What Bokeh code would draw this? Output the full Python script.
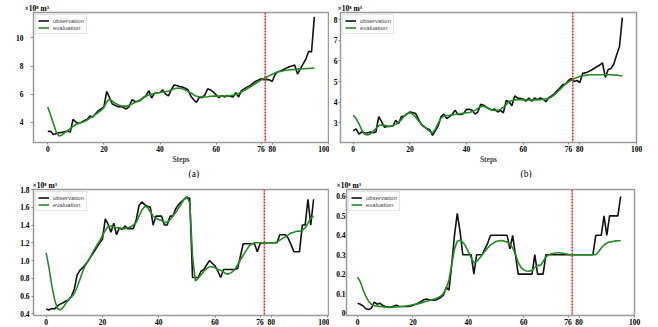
from bokeh.plotting import figure
from bokeh.layouts import column, row
from bokeh.models import Range1d, FixedTicker, Span, Title, PrintfTickFormatter
from bokeh.embed import file_html
from bokeh.resources import INLINE

steps = list(range(96))
x_ticks = [0, 20, 40, 60, 76, 80, 100]
split_step = 77.5
unit_text = "×10⁸ m³"
series_names = ["observation", "evaluation"]
captions = ["(a)", "(b)"]

obs_a = [3.35, 3.36, 3.12, 3.2, 3.25, 3.28, 3.33, 3.36, 3.3, 4.2,
         4.02, 3.92, 4.0, 4.12, 4.2, 4.45, 4.38, 4.6, 4.82, 4.95,
         5.1, 6.19, 5.75, 5.3, 5.2, 5.1, 5.12, 5.05, 4.95, 5.12,
         5.6, 5.5, 5.48, 5.55, 5.75, 5.9, 6.25, 5.72, 6.05, 6.1,
         6.12, 6.3, 6.0, 5.88, 6.3, 6.65, 6.62, 6.55, 6.5, 6.42,
         6.3, 5.85, 5.6, 5.41, 5.78, 5.75, 5.95, 6.38, 6.3, 6.15,
         5.95, 5.75, 5.9, 5.8, 5.9, 5.85, 5.8, 6.1, 5.8, 6.25,
         6.38, 6.5, 6.6, 6.75, 6.9, 7.0, 7.1, 7.02, 7.05, 7.02,
         6.9, 7.4, 7.6, 7.65, 7.75, 7.85, 7.95, 8.0, 8.07, 7.43,
         7.8, 8.15, 8.5, 9.05, 9.0, 11.5]
eval_a = [5.08, 4.5, 3.9, 3.3, 3.02, 3.1, 3.25, 3.4, 3.55, 3.7,
          3.85, 3.92, 3.98, 4.05, 4.15, 4.3, 4.42, 4.55, 4.7, 4.85,
          5.05, 5.45, 5.65, 5.5, 5.35, 5.25, 5.18, 5.15, 5.15, 5.2,
          5.3, 5.4, 5.5, 5.6, 5.72, 5.85, 5.95, 6.0, 6.05, 6.1,
          6.12, 6.15, 6.18, 6.22, 6.3, 6.38, 6.42, 6.42, 6.38, 6.3,
          6.2, 6.08, 5.95, 5.85, 5.82, 5.8, 5.8, 5.82, 5.85, 5.86,
          5.86, 5.86, 5.86, 5.87, 5.88, 5.9, 5.93, 5.98, 6.05, 6.15,
          6.25, 6.37, 6.5, 6.62, 6.75, 6.88, 7.0, 7.12, 7.22, 7.32,
          7.42, 7.5, 7.57, 7.62, 7.66, 7.7, 7.72, 7.74, 7.76, 7.78,
          7.8, 7.81, 7.82, 7.83, 7.84, 7.85]

obs_b = [2.6, 2.7, 2.45, 2.55, 2.5, 2.5, 2.55, 2.52, 2.55, 3.29,
         3.05, 2.78, 2.82, 2.82, 2.85, 3.12, 2.95, 3.3, 3.32, 3.42,
         3.52, 3.5, 3.45, 3.18, 2.92, 2.8, 2.72, 2.66, 2.39, 2.62,
         2.85, 3.3, 3.42, 3.2, 3.3, 3.42, 3.6, 3.4, 3.4, 3.45,
         3.65, 3.65, 3.6, 3.42, 3.52, 3.9, 3.85, 3.75, 3.68, 3.62,
         3.66, 3.52, 3.6, 3.48, 4.08, 4.02, 3.82, 4.3, 4.2, 4.18,
         4.15, 4.05, 4.2, 4.04, 4.2, 4.12, 4.2, 4.15, 4.02, 4.22,
         4.3, 4.4, 4.55, 4.7, 4.85, 4.88, 5.05, 5.15, 5.0, 5.05,
         4.95, 5.4, 5.42, 5.48, 5.55, 5.63, 5.72, 5.8, 5.9, 5.2,
         5.58, 5.63, 5.85, 6.3, 6.7, 8.1]
eval_b = [3.38, 3.2, 2.95, 2.65, 2.45, 2.4, 2.45, 2.58, 2.72, 2.85,
          2.9, 2.88, 2.84, 2.83, 2.86, 2.92, 3.02, 3.15, 3.32, 3.45,
          3.48, 3.42, 3.28, 3.1, 2.95, 2.82, 2.7, 2.58, 2.5, 2.7,
          2.98, 3.22, 3.32, 3.35, 3.36, 3.38, 3.4, 3.42, 3.44, 3.46,
          3.48, 3.5, 3.54, 3.6, 3.7, 3.78, 3.8, 3.75, 3.66, 3.62,
          3.6, 3.6, 3.66, 3.75, 3.88, 4.02, 4.08, 4.1, 4.12, 4.12,
          4.11, 4.1, 4.1, 4.1, 4.1, 4.11, 4.12, 4.14, 4.16, 4.18,
          4.25, 4.35, 4.48, 4.62, 4.76, 4.88, 4.98, 5.06, 5.14, 5.2,
          5.25, 5.28, 5.3, 5.32, 5.33, 5.33, 5.33, 5.33, 5.33, 5.33,
          5.33, 5.33, 5.32, 5.31, 5.29, 5.27]

obs_c = [0.455, 0.445, 0.46, 0.455, 0.49, 0.51, 0.525, 0.545, 0.56, 0.6,
         0.68, 0.84, 0.89, 0.92, 0.96, 1.0, 1.05, 1.1, 1.15, 1.2,
         1.24, 1.47, 1.41, 1.32, 1.42, 1.29, 1.37, 1.35, 1.39, 1.36,
         1.36, 1.36, 1.46, 1.62, 1.66, 1.63, 1.61, 1.6, 1.4, 1.5,
         1.5, 1.5, 1.4, 1.4, 1.5, 1.5, 1.58, 1.63, 1.66, 1.69,
         1.71, 1.7, 0.81, 0.81, 0.81, 0.88, 0.9, 0.95, 1.0, 0.97,
         0.94, 0.88, 0.81, 0.9, 0.9, 0.9, 0.9, 0.9, 0.91, 1.05,
         1.19, 1.19, 1.19, 1.19, 1.19, 1.1, 1.19, 1.2, 1.2, 1.2,
         1.2, 1.2, 1.2, 1.29, 1.29, 1.29, 1.25, 1.18, 1.1, 1.1,
         1.1, 1.4, 1.4, 1.69, 1.4, 1.69]
eval_c = [1.086, 0.92, 0.72, 0.56, 0.46, 0.445, 0.47, 0.52, 0.56, 0.59,
          0.63, 0.7, 0.79, 0.88, 0.95, 1.0, 1.06, 1.12, 1.17, 1.22,
          1.28, 1.34, 1.38, 1.39, 1.38, 1.37, 1.37, 1.36, 1.36, 1.37,
          1.38, 1.4, 1.43, 1.5, 1.57, 1.61, 1.6, 1.55, 1.5, 1.48,
          1.46, 1.45, 1.43, 1.43, 1.46, 1.5, 1.54, 1.59, 1.64, 1.69,
          1.72, 1.65, 1.05, 0.77, 0.8, 0.84, 0.88, 0.91, 0.93, 0.93,
          0.92, 0.9, 0.89, 0.87, 0.85, 0.85, 0.87, 0.9, 0.95, 1.01,
          1.06, 1.11, 1.16, 1.19, 1.2, 1.2, 1.2, 1.2, 1.2, 1.2,
          1.2, 1.2, 1.21, 1.23, 1.25, 1.27, 1.29, 1.31, 1.32, 1.33,
          1.33, 1.34, 1.37, 1.42, 1.48, 1.5]

obs_d = [0.05, 0.045, 0.036, 0.022, 0.018, 0.025, 0.056, 0.045, 0.05, 0.04,
         0.033, 0.03, 0.03, 0.035, 0.04, 0.033, 0.033, 0.033, 0.033, 0.035,
         0.04, 0.045, 0.052, 0.06, 0.068, 0.072, 0.066, 0.066, 0.066, 0.072,
         0.08, 0.092, 0.132, 0.118, 0.25, 0.4, 0.513, 0.42, 0.3, 0.3,
         0.3, 0.3, 0.2, 0.3, 0.3, 0.3, 0.33, 0.36, 0.4, 0.4,
         0.4, 0.4, 0.4, 0.4, 0.4, 0.33, 0.4, 0.3, 0.2, 0.2,
         0.2, 0.2, 0.2, 0.2, 0.3, 0.2, 0.2, 0.2, 0.3, 0.3,
         0.3, 0.3, 0.3, 0.3, 0.3, 0.3, 0.3, 0.3, 0.3, 0.3,
         0.3, 0.3, 0.3, 0.3, 0.3, 0.3, 0.4, 0.4, 0.4, 0.5,
         0.4, 0.5, 0.5, 0.5, 0.5, 0.6]
eval_d = [0.185, 0.16, 0.12, 0.085, 0.06, 0.045, 0.038, 0.036, 0.034, 0.032,
          0.03, 0.029, 0.029, 0.03, 0.031, 0.032, 0.033, 0.035, 0.037, 0.039,
          0.042, 0.045, 0.048, 0.052, 0.056, 0.06, 0.064, 0.068, 0.073, 0.079,
          0.087, 0.1, 0.125, 0.17, 0.25, 0.33, 0.37, 0.375, 0.365, 0.345,
          0.315, 0.285, 0.258, 0.265, 0.282, 0.3, 0.318, 0.335, 0.35, 0.36,
          0.368, 0.372, 0.373, 0.37, 0.365, 0.355, 0.335, 0.305, 0.26, 0.235,
          0.222, 0.216, 0.215, 0.22, 0.235, 0.245, 0.245, 0.265, 0.288, 0.3,
          0.305, 0.308, 0.31, 0.31, 0.308, 0.305, 0.302, 0.3, 0.3, 0.3,
          0.3, 0.3, 0.3, 0.3, 0.3, 0.3, 0.3, 0.315, 0.335, 0.35,
          0.36, 0.365, 0.368, 0.37, 0.372, 0.372]

yticks_a = [4, 6, 8, 10]
yticks_b = [3, 4, 5, 6, 7, 8]
yticks_c = [0.4, 0.6, 0.8, 1.0, 1.2, 1.4, 1.6, 1.8]
yticks_d = [0, 0.1, 0.2, 0.3, 0.4, 0.5, 0.6]

SERIF = "Liberation Serif"


def panel(obs, ev, xr, yr, yticks, w, h, bl, br, bt, bb, ytick_out, ystand,
          unit_dx, caption=None, cap_dx=0, xlabel=None, yfmt=None, overrides=None):
    p = figure(width=w, height=h, x_range=Range1d(*xr), y_range=Range1d(*yr),
               output_backend="svg", toolbar_location=None,
               min_border_left=bl, min_border_right=br,
               min_border_top=bt, min_border_bottom=bb)
    p.grid.visible = False
    p.outline_line_color = "#9a9a9a"
    p.outline_line_width = 1.5
    p.background_fill_color = "white"
    p.border_fill_color = "white"

    p.line(steps, obs, line_color="#111111", line_width=1.6, legend_label=series_names[0])
    p.line(steps, ev, line_color="#228b22", line_width=1.6, legend_label=series_names[1])
    p.add_layout(Span(location=split_step, dimension="height", line_color="#ff1a1a",
                      line_dash="2 1", line_width=1.5))

    for ax in (p.xaxis[0], p.yaxis[0]):
        ax.axis_line_color = None
        ax.major_tick_in = 0
        ax.minor_tick_in = 0
        ax.minor_tick_out = 0
        ax.major_tick_line_color = "#888888"
        ax.major_label_text_font = SERIF
        ax.major_label_text_font_style = "bold"
        ax.major_label_text_font_size = "7.5px"
        ax.major_label_text_color = "black"
    p.xaxis.ticker = FixedTicker(ticks=x_ticks)
    p.xaxis.major_tick_out = 2
    p.xaxis.major_label_standoff = 1
    p.yaxis.ticker = FixedTicker(ticks=yticks)
    p.yaxis.major_tick_out = ytick_out
    p.yaxis.major_label_standoff = ystand
    if yfmt:
        p.yaxis.formatter = PrintfTickFormatter(format=yfmt)
    if overrides:
        p.yaxis.major_label_overrides = overrides
    if xlabel:
        p.xaxis.axis_label = xlabel
        p.xaxis.axis_label_standoff = 0
        p.xaxis.axis_label_text_font = SERIF
        p.xaxis.axis_label_text_font_style = "bold"
        p.xaxis.axis_label_text_font_size = "7.5px"

    p.add_layout(Title(text=unit_text, align="left", offset=unit_dx, standoff=0,
                       text_font=SERIF, text_font_style="bold",
                       text_font_size="7.5px", text_color="black"), "above")
    if caption:
        p.add_layout(Title(text=caption, align="left", offset=cap_dx, standoff=0,
                           text_font=SERIF, text_font_style="normal",
                           text_font_size="9.5px", text_color="black"), "below")

    lg = p.legend[0]
    lg.location = "top_left"
    lg.margin = 2
    lg.padding = 2
    lg.spacing = 0
    lg.glyph_width = 11
    lg.glyph_height = 7
    lg.label_height = 7
    lg.label_standoff = 4
    lg.label_text_font = "Liberation Sans"
    lg.label_text_font_size = "6px"
    lg.border_line_color = "#cccccc"
    lg.border_line_width = 1
    lg.background_fill_alpha = 1.0
    return p


pa = panel(obs_a, eval_a, (-5.1, 100.05), (2.56, 11.81), yticks_a, 329, 178, 33, 1, 12, 35,
           3, 7, -9, captions[0], 155, "Steps")
pb = panel(obs_b, eval_b, (-4.5, 100.0), (2.04, 8.35), yticks_b, 329, 178, 11, 22, 12, 35,
           2, 1, -3, captions[1], 180, "Steps")
pc = panel(obs_c, eval_c, (-4.5, 100.3), (0.382, 1.8), yticks_c, 329, 149, 33, 1, 7, 10,
           2, 2, -1, yfmt="%.1f")
pd = panel(obs_d, eval_d, (-4.0, 100.0), (-0.013, 0.636), yticks_d, 329, 149, 17, 24, 7, 10,
           1, 0, -10, overrides={0: "0"})

layout = column(row(pa, pb, spacing=0), row(pc, pd, spacing=0), spacing=0)

open("out.html", "w").write(file_html(layout, INLINE))
